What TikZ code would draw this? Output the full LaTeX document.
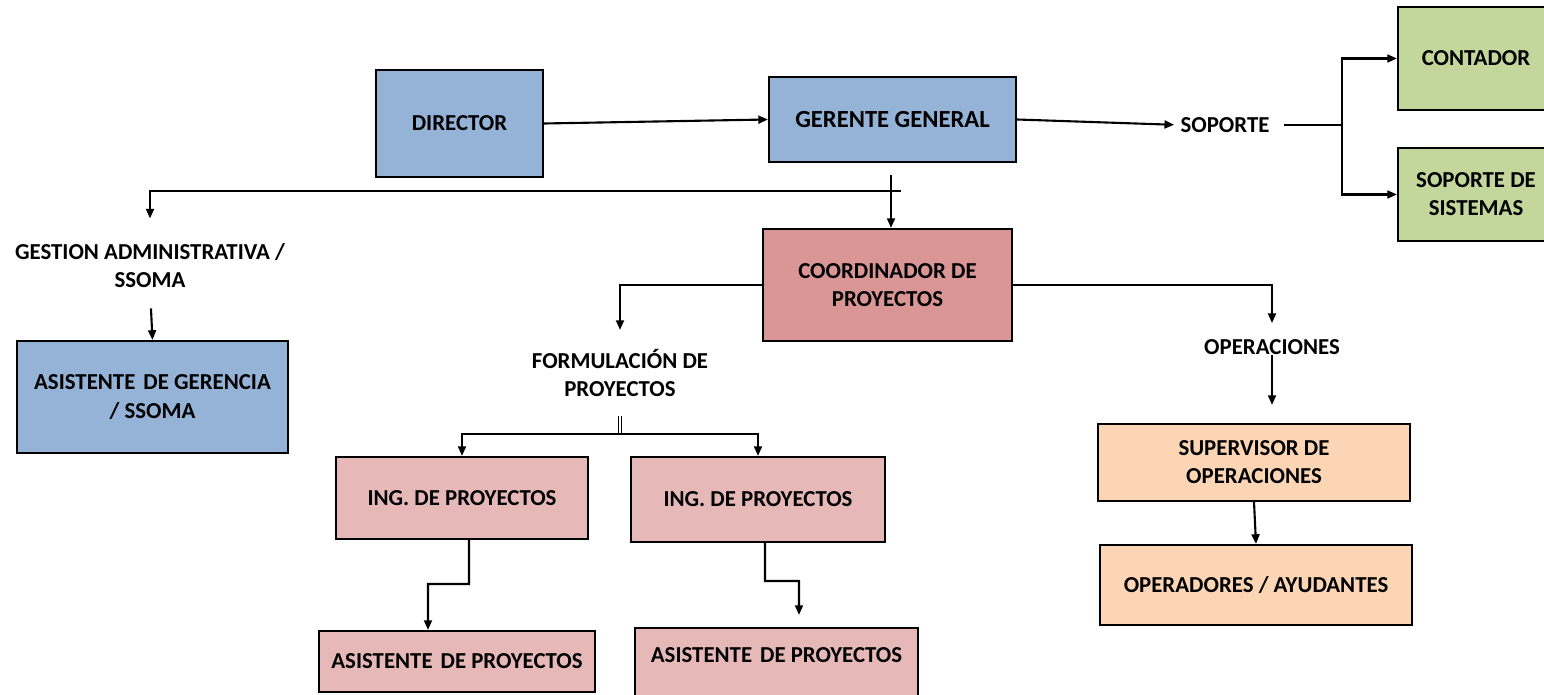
\documentclass[tikz,border=0pt]{standalone}
\usepackage{fontspec}
\setmainfont{Carlito}
\usetikzlibrary{arrows.meta}

\definecolor{dirblue}{HTML}{95B3D7}
\definecolor{soporgreen}{HTML}{C3D69B}
\definecolor{coordrose}{HTML}{D99694}
\definecolor{ingrose}{HTML}{E6B9B8}
\definecolor{operpeach}{HTML}{FCD5B5}

\begin{document}
\begin{tikzpicture}[x=0.02cm, y=-0.02cm,
  every node/.style={font=\bfseries\fontsize{13}{16}\selectfont, align=center},
  orgbox/.style={draw, line width=1.2pt, inner sep=2pt},
  lbl/.style={inner sep=0pt},
  conn/.style={-{Triangle[length=5.5pt,width=4.5pt]}, line width=1.2pt}]
\useasboundingbox (0,0) rectangle (1544,695);

\node[orgbox, fill=dirblue, minimum width=3.34cm, minimum height=2.14cm] (director) at (459.5,123.5) {DIRECTOR};
\node[orgbox, fill=dirblue, minimum width=4.94cm, minimum height=1.7cm,
      font=\bfseries\fontsize{14}{16}\selectfont] (gerente) at (892.5,119.5) {GERENTE GENERAL};
\node[lbl] (soporte) at (1225,125) {SOPORTE};
\node[orgbox, fill=soporgreen, minimum width=3.12cm, minimum height=2.06cm] (contador) at (1476,58.5) {CONTADOR};
\node[orgbox, fill=soporgreen, minimum width=3.12cm, minimum height=1.86cm] (sistemas) at (1476,194.5) {SOPORTE DE\\SISTEMAS};

\node[lbl] (gestion) at (150,266) {GESTION ADMINISTRATIVA /\\SSOMA};
\node[orgbox, fill=dirblue, minimum width=5.42cm, minimum height=2.24cm] (asisger) at (152.5,397) {ASISTENTE\hspace{0.35em}DE GERENCIA\\/ SSOMA};

\node[orgbox, fill=coordrose, minimum width=4.98cm, minimum height=2.24cm] (coord) at (887.5,285) {COORDINADOR DE\\PROYECTOS};
\node[lbl] (formul) at (620,373) {FORMULACIÓN DE\\PROYECTOS};
\node[orgbox, fill=ingrose, minimum width=5.04cm, minimum height=1.64cm] (ing1) at (462,498) {ING. DE PROYECTOS};
\node[orgbox, fill=ingrose, minimum width=5.08cm, minimum height=1.7cm] (ing2) at (758,499.5) {ING. DE PROYECTOS};
\node[orgbox, fill=ingrose, minimum width=5.52cm, minimum height=1.22cm] (asis1) at (457,661.5) {ASISTENTE\hspace{0.35em}DE PROYECTOS};
\node[orgbox, fill=ingrose, minimum width=5.66cm, minimum height=1.64cm] (asis2) at (776.5,669) {ASISTENTE\hspace{0.35em}DE PROYECTOS\\\mbox{}};

\node[lbl] (oper) at (1272,347) {OPERACIONES};
\node[orgbox, fill=operpeach, minimum width=6.24cm, minimum height=1.54cm] (superv) at (1254,462.5) {SUPERVISOR DE\\OPERACIONES};
\node[orgbox, fill=operpeach, minimum width=6.24cm, minimum height=1.6cm] (operad) at (1256,585) {OPERADORES / AYUDANTES};

\coordinate (gtop) at (891,175);
\coordinate (gend) at (901,191);
\coordinate (fj) at (620,434);

\draw[conn] (director.east) -- (gerente.west);
\draw[conn, shorten >=0.12cm] (gerente.east) -- (soporte.west);
\draw[line width=1.2pt, shorten <=0.28cm]
     (soporte.east)
  -- ++(72,0) coordinate(sj);
\draw[conn] (sj) |- (contador.west);
\draw[conn] (sj) |- (sistemas.west);

\draw[conn] (gtop) -- (gtop |- coord.north);
\draw[conn, shorten >=0.5cm] (gend) -| (gestion.north);
\draw[conn, shorten <=0.4cm] (gestion.south) -- (asisger.north);

\draw[conn, shorten >=0.38cm] (coord.west) -| (formul.north);
\draw[double, double distance=1pt, line width=0.8pt, shorten <=0.38cm] (formul.south) -- (fj);
\draw[conn] (fj) -| (ing1.north);
\draw[conn] (fj) -| (ing2.north);
\draw[conn]
     ([xshift=0.14cm]ing1.south)
  -- ++(0,44)
  -- ++(-41,0)
  -- ([xshift=-0.58cm]asis1.north);
\draw[conn, shorten >=0.24cm]
     ([xshift=0.14cm]ing2.south)
  -- ++(0,38)
  -- ++(34,0)
  -- ([xshift=0.45cm]asis2.north);

\draw[conn, shorten >=0.32cm] (coord.east) -| (oper.north);
\draw[conn, shorten >=0.36cm] (oper.south) -- (oper.south |- superv.north);
\draw[conn] (superv.south) -- (operad.north);
\end{tikzpicture}
\end{document}
